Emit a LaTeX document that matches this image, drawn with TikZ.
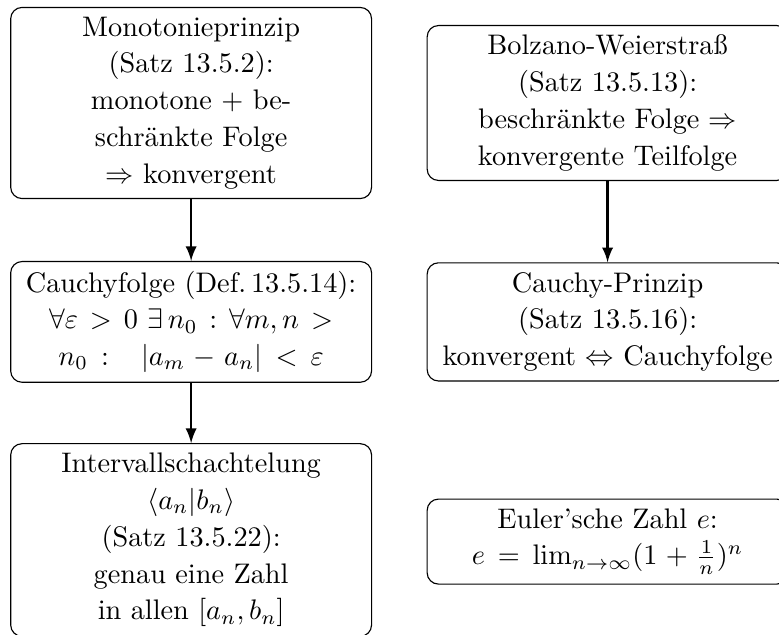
\documentclass[tikz,border=0pt]{standalone}
\usepackage{amsmath,amssymb}
\begin{document}
\begin{tikzpicture}[every node/.style={draw, rectangle, rounded corners, align=center, text width=4.25cm, font=\fontsize{10}{13}\selectfont}]
    \useasboundingbox (0,0) rectangle (9.68,-7.89);
    \node (mono) at (2.375,-1.28) {Monotonieprinzip\\(Satz 13.5.2):\\monotone + be-\\schränkte Folge\\$\Rightarrow$ konvergent};
    \node (cauchyfolge) at (2.375,-4.0) {Cauchyfolge (Def.\,13.5.14):\\$\forall\varepsilon > 0\ \exists\, n_0 : \forall m,n >$\\$n_0 :\ \ |a_m - a_n| < \varepsilon$};
    \node (intervall) at (2.375,-6.71) {Intervallschachtelung\\$\langle a_n|b_n\rangle$\\(Satz 13.5.22):\\genau eine Zahl\\in allen $[a_n,b_n]$};
    \node (bolzano) at (7.55,-1.28) {Bolzano-Weierstraß\\(Satz 13.5.13):\\beschränkte Folge $\Rightarrow$\\konvergente Teilfolge};
    \node (cauchyprinzip) at (7.55,-4.0) {Cauchy-Prinzip\\(Satz 13.5.16):\\konvergent $\Leftrightarrow$ Cauchyfolge};
    \node (euler) at (7.55,-6.73) {Euler'sche Zahl $e$:\\$e = \lim_{n\to\infty}(1+\frac{1}{n})^n$};
    \draw[-latex, thick] (mono) -- (cauchyfolge);
    \draw[-latex, thick] (cauchyfolge) -- (intervall);
    \draw[-latex, thick] (bolzano) -- (cauchyprinzip);
\end{tikzpicture}
\end{document}
